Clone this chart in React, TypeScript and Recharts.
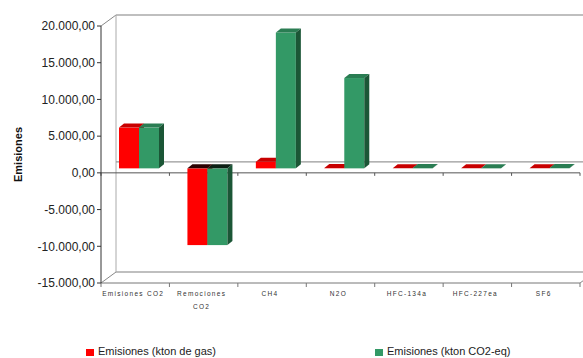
import React from 'react';
import {
  BarChart,
  Bar,
  XAxis,
  YAxis,
  ReferenceArea,
  ReferenceLine,
} from 'recharts';

// gases and emission totals per gas
const categories = ['Emisiones CO2', 'Remociones CO2', 'CH4', 'N2O', 'HFC-134a', 'HFC-227ea', 'SF6'];
const ktonGas = [5550, -10450, 900, 40, 0.1, 0.01, 0.02];
const ktonCO2eq = [5550, -10450, 18500, 12300, 60, 20, 40];
const yTicks = [-15000, -10000, -5000, 0, 5000, 10000, 15000, 20000];

const data = categories.map((name, i) => ({
  name,
  gas: ktonGas[i],
  co2eq: ktonCO2eq[i],
}));

const FONT = '"Liberation Sans", Arial, sans-serif';

// depth of the 3D box behind the plot area
const WALL_DX = 15;
const WALL_DY = -11;
// bars sit half way into the box
const BAR_SX = 4;
const BAR_SY = -4.5;
const BAR_DX = 5;
const BAR_DY = -4;

const fmt = (v: number) => {
  const neg = v < 0;
  const [i, d] = Math.abs(v).toFixed(2).split('.');
  const g = i.replace(/\B(?=(\d{3})+(?!\d))/g, '.');
  return (neg ? '-' : '') + g + ',' + d;
};

const makeBox = (front: string, top: string, topNeg: string, side: string) => (props: any) => {
  const { x, y, width, height, value } = props;
  if (x == null || y == null) return null;
  const neg = (Array.isArray(value) ? value[1] - value[0] : value) < 0;
  const t = Math.min(y, y + height) + BAR_SY;
  const b = Math.max(y, y + height) + BAR_SY;
  const l = x + BAR_SX;
  const r = l + width;
  return (
    <g>
      <rect x={l} y={t} width={width} height={Math.max(b - t, 0)} fill={front} />
      <polygon
        points={`${l},${t} ${l + BAR_DX},${t + BAR_DY} ${r + BAR_DX},${t + BAR_DY} ${r},${t}`}
        fill={neg ? topNeg : top}
      />
      <polygon
        points={`${r},${t} ${r + BAR_DX},${t + BAR_DY} ${r + BAR_DX},${b + BAR_DY} ${r},${b}`}
        fill={side}
      />
    </g>
  );
};

const RedBox = makeBox('#ff0000', '#c80000', '#2a0000', '#900000');
const GreenBox = makeBox('#339966', '#2a7d53', '#0c1f14', '#1b5636');

// back wall, floor and left edge of the box
const Frame = (props: any) => {
  const { x, y, width, height } = props;
  const n = categories.length;
  const bottom = y + height;
  const bx = x + WALL_DX;
  const ticks = Array.from({ length: n + 1 }, (_, i) => x + (width * i) / n);
  return (
    <g fill="none">
      <line x1={x} y1={y} x2={bx} y2={y + WALL_DY} stroke="#888" />
      <line x1={bx} y1={y + WALL_DY} x2={x + width + WALL_DX} y2={y + WALL_DY} stroke="#aaa" strokeWidth={1.5} />
      <line x1={bx} y1={y + WALL_DY} x2={bx} y2={bottom + WALL_DY} stroke="#aaa" />
      <line x1={bx} y1={bottom + WALL_DY} x2={x + width + WALL_DX} y2={bottom + WALL_DY} stroke="#aaa" strokeWidth={1.5} />
      <line x1={x} y1={bottom} x2={bx} y2={bottom + WALL_DY} stroke="#888" />
      <line x1={x + width} y1={bottom} x2={x + width + WALL_DX} y2={bottom + WALL_DY} stroke="#888" />
      <line x1={x} y1={bottom} x2={x + width} y2={bottom} stroke="#777" />
      {ticks.map((tx, i) => (
        <line key={i} x1={tx} y1={bottom} x2={tx} y2={bottom + 4} stroke="#777" />
      ))}
    </g>
  );
};

// zero plane: front edge with category ticks, back edge on the wall
const ZeroPlane = (props: any) => {
  const { x1, y1, x2 } = props;
  const n = categories.length;
  const ticks = Array.from({ length: n + 1 }, (_, i) => x1 + ((x2 - x1) * i) / n);
  return (
    <g>
      <line x1={x1 + WALL_DX} y1={y1 + WALL_DY} x2={x2 + WALL_DX} y2={y1 + WALL_DY} stroke="#999" strokeWidth={1.2} />
      <line x1={x1} y1={y1} x2={x2} y2={y1} stroke="#555" />
      {ticks.map((tx, i) => (
        <line key={i} x1={tx} y1={y1} x2={tx} y2={y1 + 3} stroke="#555" />
      ))}
    </g>
  );
};

const CategoryTick = (props: any) => {
  const { x, y, payload } = props;
  const label: string = payload.value;
  const lines = label === 'Remociones CO2' ? ['Remociones', 'CO2'] : [label];
  return (
    <text
      x={x - 2}
      y={y}
      textAnchor="middle"
      fontFamily={FONT}
      fontSize={6.5}
      letterSpacing={1.3}
      fill="#333"
    >
      {lines.map((ln, i) => (
        <tspan key={i} x={x - 2} dy={i === 0 ? 5 : 13}>
          {ln}
        </tspan>
      ))}
    </text>
  );
};

const AxisTitle = (props: any) => {
  const vb = props.viewBox || {};
  const cx = (vb.x || 0) + 18;
  const cy = (vb.y || 0) + (vb.height || 0) / 2;
  return (
    <text
      x={cx}
      y={cy}
      transform={`rotate(-90 ${cx} ${cy})`}
      textAnchor="middle"
      dominantBaseline="central"
      fontFamily={FONT}
      fontSize={11}
      fontWeight="bold"
      fill="#111"
    >
      Emisiones
    </text>
  );
};

export default function App() {
  return (
    <div style={{ position: 'absolute', left: 0, top: 0, width: 583, height: 358, background: '#fff' }}>
      <BarChart
        width={583}
        height={358}
        data={data}
        margin={{ top: 26, right: 3, bottom: 35, left: 0 }}
        barGap={0}
        barSize={20}
      >
        <XAxis
          dataKey="name"
          height={40}
          axisLine={false}
          tickLine={false}
          interval={0}
          tick={<CategoryTick />}
        />
        <YAxis
          width={101}
          domain={[-15000, 20000]}
          ticks={yTicks}
          interval={0}
          tickFormatter={fmt}
          tickSize={4}
          tickLine={{ stroke: '#333' }}
          axisLine={{ stroke: '#333' }}
          tick={{ fontSize: 12, fontFamily: FONT, fill: '#222' }}
          label={<AxisTitle />}
        />
        <ReferenceArea y1={-15000} y2={20000} shape={<Frame />} zIndex={-50} />
        <ReferenceLine y={0} shape={<ZeroPlane />} zIndex={-50} />
        <Bar dataKey="gas" fill="#ff0000" shape={RedBox} isAnimationActive={false} />
        <Bar dataKey="co2eq" fill="#339966" shape={GreenBox} isAnimationActive={false} />
      </BarChart>
      <div
        style={{
          position: 'absolute',
          left: 0,
          top: 344,
          width: 583,
          fontFamily: FONT,
          fontSize: 11,
          color: '#222',
        }}
      >
        <div style={{ position: 'absolute', left: 86, top: 5, width: 8, height: 7, background: '#ff0000' }} />
        <span style={{ position: 'absolute', left: 98, top: 1 }}>Emisiones (kton de gas)</span>
        <div style={{ position: 'absolute', left: 375, top: 5, width: 8, height: 7, background: '#339966' }} />
        <span style={{ position: 'absolute', left: 387, top: 1 }}>Emisiones (kton CO2-eq)</span>
      </div>
    </div>
  );
}
